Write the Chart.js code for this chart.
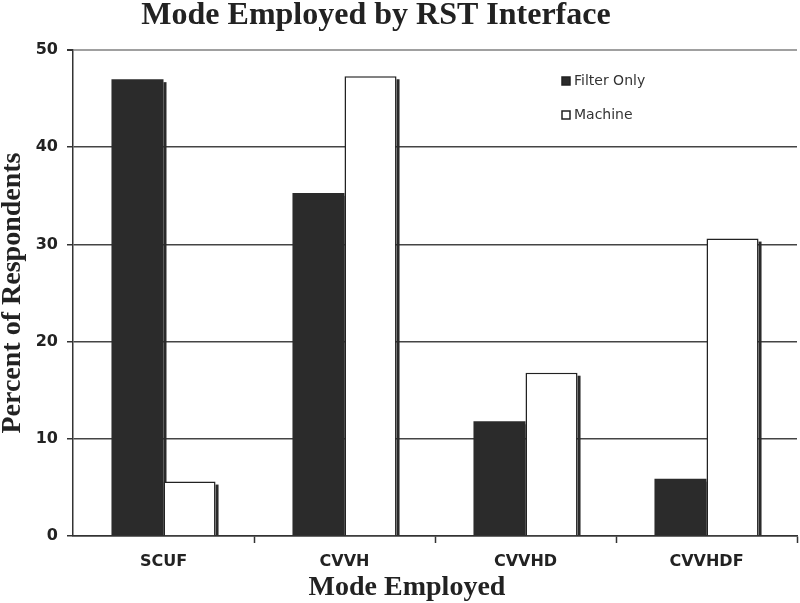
<!DOCTYPE html>
<html>
<head>
<meta charset="utf-8">
<title>Mode Employed by RST Interface</title>
<script src="https://cdn.jsdelivr.net/npm/chart.js@4"></script>
<style>
  body { margin: 0; background: #fff; }
  canvas { display: block; }
</style>
</head>
<body>
<canvas id="modeChart" width="800" height="603"></canvas>
<script>
'use strict'

const categories = ['SCUF', 'CVVH', 'CVVHD', 'CVVHDF'];
const filterOnly = [47.0, 35.3, 11.8, 5.9];
const machine = [5.6, 47.3, 16.8, 30.6];
const yTicks = [0, 10, 20, 30, 40, 50];

const chartTitle = 'Mode Employed by RST Interface';
const xTitle = 'Mode Employed';
const yTitle = 'Percent of Respondents';

const serif = "'Liberation Serif', 'Times New Roman', serif";
const sans = "'DejaVu Sans', Verdana, sans-serif";

// dark drop shadow on the right side of each bar
const barShadow = {
  id: 'barShadow',
  beforeDatasetsDraw(chart) {
    const c = chart.ctx;
    c.save();
    c.fillStyle = '#2a2a2a';
    chart.getSortedVisibleDatasetMetas().forEach(meta => {
      meta.data.forEach(bar => {
        const p = bar.getProps(['x', 'y', 'base', 'width'], true);
        c.fillRect(p.x + p.width / 2, p.y + 3, 3, p.base - p.y - 3);
      });
    });
    c.restore();
  }
};

// titles and the legend box inside the plot
const decorations = {
  id: 'decorations',
  afterDraw(chart) {
    const c = chart.ctx;
    c.save();
    c.fillStyle = '#222';
    c.textAlign = 'center';
    c.textBaseline = 'alphabetic';
    c.font = 'bold 32px ' + serif;
    c.fillText(chartTitle, 376, 24);
    c.font = 'bold 28px ' + serif;
    c.fillText(xTitle, 407, 595);

    c.textAlign = 'left';
    c.textBaseline = 'middle';
    c.font = '14px ' + sans;
    chart.data.datasets.forEach((ds, i) => {
      const y = 81 + i * 34;
      c.fillStyle = ds.backgroundColor;
      c.fillRect(562, y - 4, 8, 8);
      c.strokeStyle = '#222';
      c.lineWidth = 1.5;
      c.strokeRect(562, y - 4, 8, 8);
      c.fillStyle = '#333';
      c.fillText(ds.label, 574, y);
    });
    c.restore();
  }
};

new Chart(document.getElementById('modeChart'), {
  type: 'bar',
  data: {
    labels: categories,
    datasets: [{
      label: 'Filter Only',
      data: filterOnly,
      backgroundColor: '#2b2b2b',
      borderColor: '#2b2b2b',
      borderWidth: 0,
    }, {
      label: 'Machine',
      data: machine,
      backgroundColor: '#ffffff',
      borderColor: '#222222',
      borderWidth: 1.5,
    }]
  },
  options: {
    responsive: false,
    animation: false,
    devicePixelRatio: 1,
    categoryPercentage: 0.575,
    barPercentage: 1,
    layout: { padding: { top: 50, right: 3, left: 0, bottom: 0 } },
    plugins: {
      legend: { display: false },
      title: { display: false },
      tooltip: { enabled: false }
    },
    scales: {
      x: {
        offset: true,
        grid: {
          offset: true,
          drawOnChartArea: true,
          color: ctx => ctx.index === categories.length ? '#9a9a9a' : 'rgba(0,0,0,0)',
          lineWidth: ctx => ctx.index === categories.length ? 3 : 1,
          tickColor: ctx => ctx.index === 0 ? 'rgba(0,0,0,0)' : '#333',
          tickWidth: 1.5,
          tickLength: 7
        },
        border: { color: '#333', width: 1.5 },
        ticks: {
          color: '#222',
          padding: 9,
          font: { family: sans, size: 16, weight: 'bold' }
        },
        afterFit: s => { s.height = 67; }
      },
      y: {
        min: 0,
        max: 50,
        afterBuildTicks: s => { s.ticks = yTicks.map(v => ({ value: v })); },
        grid: {
          color: ctx => ctx.tick && ctx.tick.value === 50 ? '#a0a0a0' : '#444',
          lineWidth: ctx => ctx.tick && ctx.tick.value === 50 ? 2 : 1.5,
          tickColor: '#333',
          tickLength: 6
        },
        border: { color: '#333', width: 1.5 },
        ticks: {
          color: '#222',
          padding: 9,
          font: { family: sans, size: 16, weight: 'bold' }
        },
        title: {
          display: true,
          text: yTitle,
          color: '#222',
          padding: 0,
          font: { family: serif, size: 28, weight: 'bold', lineHeight: 0.9 }
        },
        afterFit: s => { s.width = 73; }
      }
    }
  },
  plugins: [barShadow, decorations]
});
</script>
</body>
</html>
